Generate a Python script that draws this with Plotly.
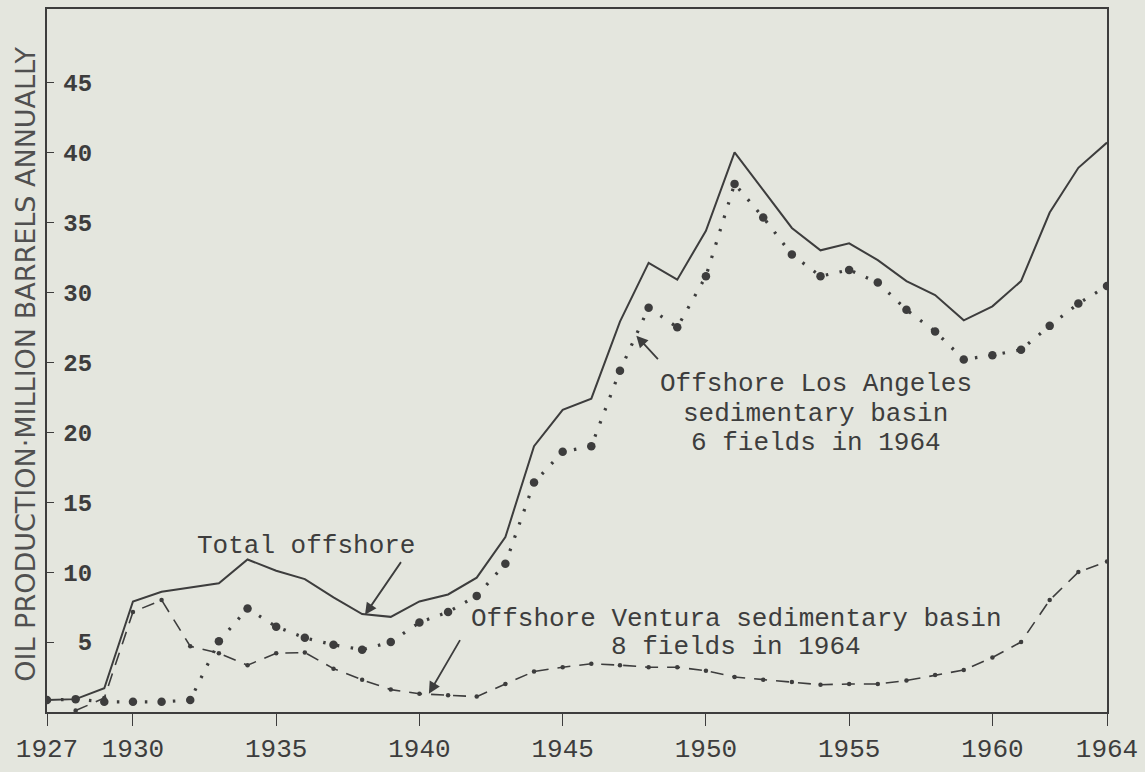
import plotly.graph_objects as go

# Annual offshore oil production, million barrels
years = list(range(1927, 1965))
total_offshore = [0.85, 0.92, 1.7, 7.9, 8.6, 8.9, 9.2, 10.9, 10.1, 9.5,
                  8.2, 7.0, 6.8, 7.9, 8.4, 9.6, 12.5, 19.0, 21.6, 22.4,
                  27.9, 32.1, 30.9, 34.4, 40.0, 37.3, 34.6, 33.0, 33.5, 32.3,
                  30.8, 29.8, 28.0, 29.0, 30.8, 35.7, 38.9, 40.7]
los_angeles = [0.85, 0.92, 0.73, 0.73, 0.73, 0.85, 5.05, 7.4, 6.1, 5.3,
               4.8, 4.45, 5.0, 6.4, 7.15, 8.3, 10.6, 16.4, 18.6, 19.0,
               24.4, 28.9, 27.5, 31.15, 37.75, 35.35, 32.7, 31.15, 31.6, 30.7,
               28.75, 27.2, 25.2, 25.5, 25.9, 27.6, 29.2, 30.45]
ventura_years = list(range(1928, 1965))
ventura = [0.1, 1.0, 7.15, 8.0, 4.7, 4.2, 3.35, 4.2, 4.25, 3.1,
           2.3, 1.6, 1.3, 1.2, 1.1, 2.0, 2.9, 3.2, 3.45, 3.35,
           3.2, 3.2, 2.95, 2.5, 2.3, 2.15, 1.95, 2.0, 2.0, 2.25,
           2.65, 3.0, 3.9, 5.0, 8.0, 10.0, 10.75]

x_ticks = [1927, 1930, 1935, 1940, 1945, 1950, 1955, 1960, 1964]
y_ticks = [5, 10, 15, 20, 25, 30, 35, 40, 45]

INK = "#3d3d3d"
PAPER = "#e4e6de"
MONO = "Liberation Mono, DejaVu Sans Mono, monospace"
Y_RANGE = [0, 50.25]

fig = go.Figure()

fig.add_trace(go.Scatter(
    x=years, y=total_offshore, mode="lines",
    line=dict(color=INK, width=2), hoverinfo="skip"))

fig.add_trace(go.Scatter(
    x=years, y=los_angeles, mode="lines+markers",
    line=dict(color=INK, width=3.2, dash="2.5px,11.5px"),
    marker=dict(color=INK, size=8.5), hoverinfo="skip"))

fig.add_trace(go.Scatter(
    x=ventura_years, y=ventura, mode="lines+markers",
    line=dict(color=INK, width=1.6, dash="13px,9px"),
    marker=dict(color=INK, size=4.5), hoverinfo="skip"))

# invisible trace bound to the label-only axis so it renders
fig.add_trace(go.Scatter(
    x=[1927], y=[0], yaxis="y2", mode="markers",
    marker=dict(opacity=0), hoverinfo="skip"))

label_font = dict(family=MONO, size=26, color=INK)

annotations = [
    # series labels
    dict(x=1936.03, y=11.9, text="Total offshore", showarrow=False,
         font=label_font, xanchor="center", yanchor="middle"),
    dict(x=1953.83, y=23.45, text="Offshore Los Angeles", showarrow=False,
         font=label_font, xanchor="center", yanchor="middle"),
    dict(x=1953.83, y=21.3, text="sedimentary basin", showarrow=False,
         font=label_font, xanchor="center", yanchor="middle"),
    dict(x=1953.83, y=19.2, text="6 fields in 1964", showarrow=False,
         font=label_font, xanchor="center", yanchor="middle"),
    dict(x=1951.06, y=6.68, text="Offshore Ventura sedimentary basin",
         showarrow=False, font=label_font, xanchor="center", yanchor="middle"),
    dict(x=1951.06, y=4.65, text="8 fields in 1964", showarrow=False,
         font=label_font, xanchor="center", yanchor="middle"),
    # pointer arrows
    dict(x=1938.1, y=6.96, text="", showarrow=True, ax=37, ay=-54,
         arrowhead=2, arrowsize=1.3, arrowwidth=1.8, arrowcolor=INK),
    dict(x=1947.57, y=26.9, text="", showarrow=True, ax=23, ay=25,
         arrowhead=2, arrowsize=1.3, arrowwidth=1.8, arrowcolor=INK),
    dict(x=1940.33, y=1.31, text="", showarrow=True, ax=32, ay=-55,
         arrowhead=2, arrowsize=1.3, arrowwidth=1.8, arrowcolor=INK),
    # vertical axis title
    dict(xref="paper", yref="paper", x=-0.0198, y=0.494,
         text="OIL PRODUCTION·MILLION BARRELS ANNUALLY", textangle=-90,
         showarrow=False, xanchor="center", yanchor="middle",
         font=dict(family="DejaVu Sans, sans-serif", size=27,
                   color="#505050")),
]

fig.update_layout(
    width=1145, height=772,
    margin=dict(l=47, r=38, t=7, b=46),
    paper_bgcolor=PAPER, plot_bgcolor=PAPER,
    showlegend=False,
    annotations=annotations,
    xaxis=dict(
        range=[1927, 1964], tickvals=x_ticks,
        ticktext=[str(v) for v in x_ticks],
        showline=True, linecolor=INK, linewidth=1.5, mirror=True,
        ticks="outside", ticklen=12, tickwidth=1.3, tickcolor=INK,
        tickfont=dict(family=MONO, size=26, color=INK),
        showgrid=False, zeroline=False),
    yaxis=dict(
        range=Y_RANGE, tickvals=y_ticks,
        showline=True, linecolor=INK, linewidth=1.5, mirror=True,
        ticks="inside", ticklen=7, tickwidth=1.3, tickcolor=INK,
        showticklabels=False,
        showgrid=False, zeroline=False),
    # tick numbers sit just inside the frame, to the right of the axis
    yaxis2=dict(
        range=Y_RANGE, tickvals=y_ticks,
        ticktext=[str(v) for v in y_ticks],
        overlaying="y", anchor="free", position=0.0425, side="left",
        showline=False, ticks="", showgrid=False, zeroline=False,
        tickfont=dict(family=MONO, size=24, color=INK, weight="bold")),
)

fig.write_html("out.html")
